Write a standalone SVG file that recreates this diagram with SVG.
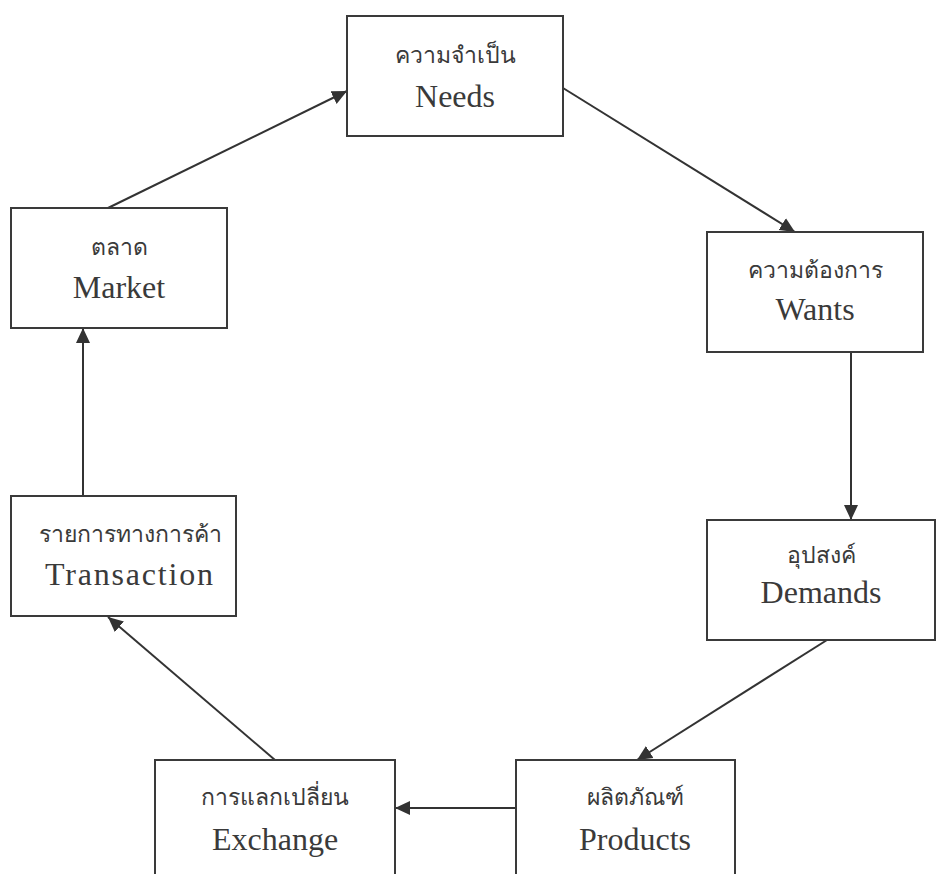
<svg xmlns="http://www.w3.org/2000/svg" width="936" height="874" viewBox="0 0 936 874">
<style>
.box{fill:#fff;stroke:#3a3a3a;stroke-width:2}
.con{stroke:#333;stroke-width:2;fill:none}
.th{font-family:"Liberation Serif","Noto Sans",serif;font-size:23px;fill:#3a3a3a;text-anchor:middle}
.en{font-family:"Liberation Serif",serif;font-size:32px;fill:#3a3a3a;text-anchor:middle}
</style>
<defs>
<marker id="ah" markerUnits="userSpaceOnUse" markerWidth="16" markerHeight="16" refX="15" refY="7" orient="auto" viewBox="0 0 16 14">
<path d="M0,0 L15,7 L0,14 z" fill="#333"/>
</marker>
</defs>
<rect width="936" height="874" fill="#fff"/>
<g id="connectors">
<line class="con" x1="108" y1="208" x2="347" y2="91" marker-end="url(#ah)"/>
<line class="con" x1="563" y1="88" x2="795" y2="232" marker-end="url(#ah)"/>
<line class="con" x1="851" y1="352" x2="851" y2="520" marker-end="url(#ah)"/>
<line class="con" x1="827" y1="640" x2="637" y2="760" marker-end="url(#ah)"/>
<line class="con" x1="516" y1="808" x2="395" y2="808" marker-end="url(#ah)"/>
<line class="con" x1="275" y1="760" x2="108" y2="617" marker-end="url(#ah)"/>
<line class="con" x1="83" y1="496" x2="83" y2="328" marker-end="url(#ah)"/>
</g>
<g id="needs">
<rect class="box" x="347" y="16" width="216" height="120"/>
<text class="th" x="455" y="63">ความจำเป็น</text>
<text class="en" x="455" y="107">Needs</text>
</g>
<g id="wants">
<rect class="box" x="707" y="232" width="216" height="120"/>
<text class="th" x="815" y="278">ความต้องการ</text>
<text class="en" x="815" y="320">Wants</text>
</g>
<g id="demands">
<rect class="box" x="707" y="520" width="228" height="120"/>
<text class="th" x="821" y="563">อุปสงค์</text>
<text class="en" x="821" y="603">Demands</text>
</g>
<g id="products">
<rect class="box" x="516" y="760" width="219" height="130"/>
<text class="th" x="635" y="805">ผลิตภัณฑ์</text>
<text class="en" x="635" y="850">Products</text>
</g>
<g id="exchange">
<rect class="box" x="155" y="760" width="240" height="130"/>
<text class="th" x="275" y="805">การแลกเปลี่ยน</text>
<text class="en" x="275" y="850">Exchange</text>
</g>
<g id="transaction">
<rect class="box" x="11" y="496" width="225" height="120"/>
<text class="th" x="130" y="542">รายการทางการค้า</text>
<text class="en" x="129" y="585" textLength="168">Transaction</text>
</g>
<g id="market">
<rect class="box" x="11" y="208" width="216" height="120"/>
<text class="th" x="119" y="255">ตลาด</text>
<text class="en" x="119" y="298">Market</text>
</g>
</svg>
